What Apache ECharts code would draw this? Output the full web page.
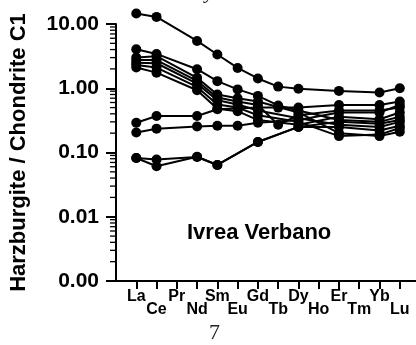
<!DOCTYPE html>
<html><head><meta charset="utf-8">
<script src="https://cdn.jsdelivr.net/npm/echarts@6/dist/echarts.min.js"></script>
<style>html,body{margin:0;padding:0;background:#fff}#c{width:416px;height:345px}</style>
</head><body><div id="c"></div>
<script>
var elements = ['La','Ce','Pr','Nd','Sm','Eu','Gd','Tb','Dy','Ho','Er','Tm','Yb','Lu'];
var yTicks = [0.001, 0.01, 0.1, 1, 10];
var s1  = [14.6, 12.9, null, 5.45, 3.35, 2.07, 1.42, 1.06, 0.98, null, 0.91, null, 0.86, 1.0];
var s2  = [4.05, 3.42, null, 1.98, 1.29, 0.96, 0.76, 0.54, 0.45, null, 0.32, null, 0.30, 0.36];
var s3  = [3.0, 3.15, null, 1.45, 0.80, 0.70, 0.62, null, 0.42, null, 0.20, null, 0.18, 0.21];
var s4  = [2.75, 2.75, null, 1.30, 0.72, 0.62, 0.55, 0.27, 0.38, null, 0.45, null, 0.45, 0.50];
var s5  = [2.5, 2.45, null, 1.18, 0.65, 0.56, 0.45, null, 0.34, null, 0.27, null, 0.25, 0.30];
var s6  = [2.3, 2.1, null, 1.05, 0.56, 0.50, 0.38, null, 0.30, null, 0.18, null, 0.19, 0.24];
var s7  = [2.1, 1.75, null, 0.93, 0.48, 0.44, 0.32, null, 0.27, null, 0.36, null, 0.33, 0.42];
var s8  = [0.29, 0.37, null, 0.37, 0.47, null, 0.50, 0.50, 0.50, null, 0.55, null, 0.55, 0.62];
var s9  = [0.205, 0.235, null, 0.255, 0.26, 0.26, 0.29, null, 0.32, null, 0.42, null, 0.42, 0.55];
var s10 = [0.082, 0.078, null, 0.085, 0.064, null, 0.146, null, 0.25, null, 0.25, null, 0.22, 0.26];
var s11 = [0.082, 0.061, null, 0.086, 0.064, null, 0.146, null, 0.25, null, 0.30, null, 0.28, 0.32];
var allSeries = [s1,s2,s3,s4,s5,s6,s7,s8,s9,s10,s11];

var minorVals = [];
for (var d = 0; d < yTicks.length - 1; d++) {
  for (var m = 2; m <= 9; m++) minorVals.push([-1, +(yTicks[d] * m).toPrecision(3)]);
}

var chart = echarts.init(document.getElementById('c'), null, {renderer: 'canvas'});
var series = allSeries.map(function (arr) {
  return {
    type: 'line',
    data: arr.map(function (v, i) { return [i, v]; }),
    connectNulls: true,
    clip: false,
    symbol: 'circle',
    symbolSize: 10,
    showAllSymbol: true,
    lineStyle: {color: '#000', width: 2},
    itemStyle: {color: '#000'},
    silent: true,
    animation: false
  };
});
series.push({
  type: 'custom',
  data: minorVals,
  clip: false,
  silent: true,
  animation: false,
  renderItem: function (params, api) {
    var p = api.coord([api.value(0), api.value(1)]);
    return {type: 'line', shape: {x1: p[0] - 6, y1: p[1], x2: p[0], y2: p[1]},
            style: {stroke: '#000', lineWidth: 1.3}};
  }
});

var tickVals = elements.map(function (e, i) { return i; });
chart.setOption({
  animation: false,
  grid: {left: 116, top: 24, width: 300, height: 257},
  xAxis: {
    type: 'value', min: -1, max: 13.8,
    splitLine: {show: false},
    axisLine: {onZero: false, lineStyle: {color: '#000', width: 2}},
    axisTick: {show: true, length: 8, lineStyle: {color: '#000', width: 2}, customValues: tickVals},
    axisLabel: {
      customValues: tickVals,
      margin: 8,
      formatter: function (v) {
        var i = Math.round(v);
        if (i < 0 || i >= elements.length) return '';
        return (i % 2 === 0 ? '{hi|' : '{lo|') + elements[i] + '}';
      },
      rich: {
        hi: {fontFamily: 'Liberation Sans, Arial', fontWeight: 'bold', fontSize: 16, color: '#000', padding: [0, 0, 13, 0]},
        lo: {fontFamily: 'Liberation Sans, Arial', fontWeight: 'bold', fontSize: 16, color: '#000', padding: [13, 0, 0, 0]}
      }
    }
  },
  yAxis: {
    type: 'log', logBase: 10, min: 0.001, max: 10,
    splitLine: {show: false},
    axisLine: {show: true, onZero: false, lineStyle: {color: '#000', width: 2}},
    axisTick: {show: true, length: 10, lineStyle: {color: '#000', width: 2}},
    minorTick: {show: false},
    axisLabel: {
      margin: 17,
      fontFamily: 'Liberation Sans, Arial', fontWeight: 'bold', fontSize: 21, color: '#000',
      formatter: function (v) { return Number(v).toFixed(2); }
    },
    name: 'Harzburgite / Chondrite C1',
    nameLocation: 'middle',
    nameGap: 86,
    nameTextStyle: {fontFamily: 'Liberation Sans, Arial', fontWeight: 'bold', fontSize: 22, color: '#000'}
  },
  graphic: [
    {type: 'text', left: 262 - 75, top: 222, style: {text: 'Ivrea Verbano', fontFamily: 'Liberation Sans, Arial', fontWeight: 'bold', fontSize: 22, fill: '#000'}},
    {type: 'text', left: 209, top: 322, style: {text: '7', fontFamily: 'Liberation Serif, Times New Roman', fontSize: 22, fill: '#222'}},
    {type: 'text', left: 205, top: -18, style: {text: 'y', fontFamily: 'Liberation Serif, Times New Roman', fontStyle: 'italic', fontSize: 21, fill: '#222'}}
  ],
  series: series
});
</script></body></html>
